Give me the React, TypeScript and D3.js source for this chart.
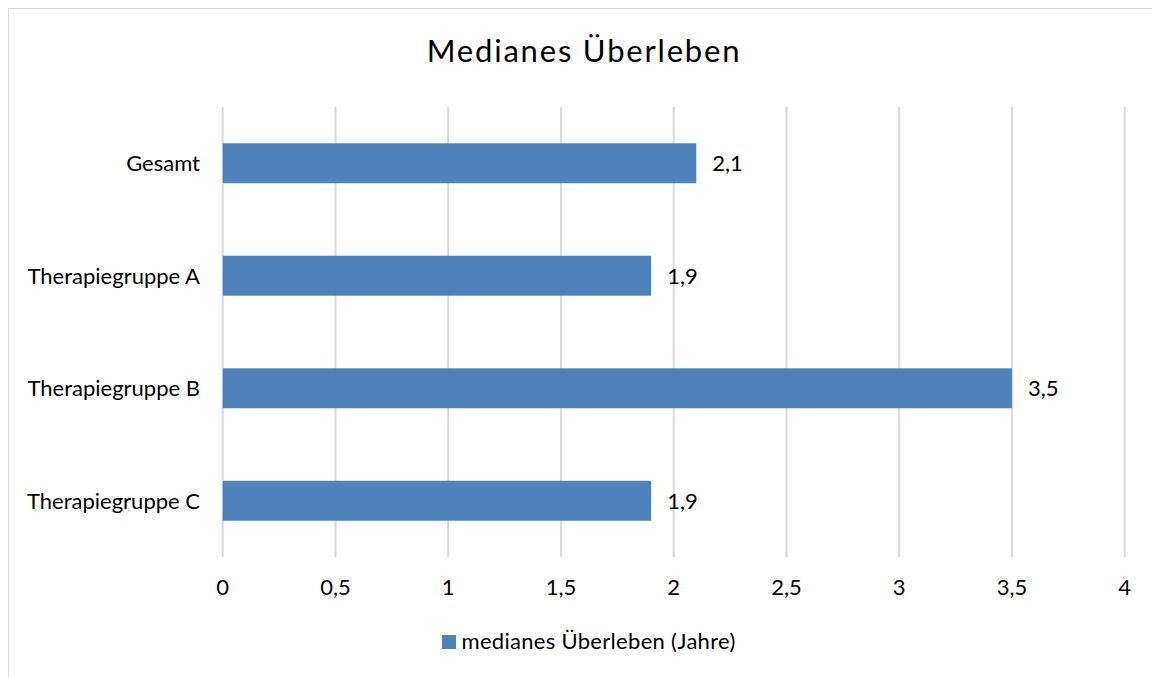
import React from "react";
import * as d3 from "d3";

const categories = ["Gesamt", "Therapiegruppe A", "Therapiegruppe B", "Therapiegruppe C"];
const values = [2.1, 1.9, 3.5, 1.9];
const xTicks = [0, 0.5, 1, 1.5, 2, 2.5, 3, 3.5, 4];
const title = "Medianes Überleben";
const seriesName = "medianes Überleben (Jahre)";

const W = 1152;
const H = 677;
const FONT = "Lato, 'Open Sans', sans-serif";
const fmt = (v: number) => String(v).replace(".", ",");

export default function App() {
  const x = d3.scaleLinear().domain([0, 4]).range([222.7, 1124.7]);
  const y = d3.scaleBand<string>().domain(categories).range([107, 557]).paddingInner(0.645).paddingOuter(0.3225);
  return (
    <svg width={W} height={H} style={{ position: "absolute", left: 0, top: 0 }}>
      <rect x={0} y={0} width={W} height={H} fill="#fff" />
      <rect x={8.5} y={8.5} width={1200} height={700} fill="#fff" stroke="#d9d9d9" strokeWidth={1} />
      <text x={584} y={62} textAnchor="middle" fontFamily={FONT} fontSize={31} letterSpacing={1.8} fill="#000">{title}</text>
      {xTicks.map((t) => (
        <line key={t} x1={x(t)} x2={x(t)} y1={107} y2={557} stroke="#d9d9d9" strokeWidth={2} />
      ))}
      {categories.map((c, i) => (
        <g key={c}>
          <rect x={x(0)} y={y(c)!} width={x(values[i]) - x(0)} height={y.bandwidth()} fill="#4f81bd" />
          <text x={x(values[i]) + 16} y={y(c)! + y.bandwidth() / 2 + 8} fontFamily={FONT} fontSize={22} fill="#000">{fmt(values[i])}</text>
          <text x={200} y={y(c)! + y.bandwidth() / 2 + 8} textAnchor="end" fontFamily={FONT} fontSize={22} fill="#000">{c}</text>
        </g>
      ))}
      {xTicks.map((t) => (
        <text key={t} x={x(t)} y={595} textAnchor="middle" fontFamily={FONT} fontSize={22} fill="#000">{fmt(t)}</text>
      ))}
      <rect x={442} y={635} width={14} height={14} fill="#4f81bd" />
      <text x={461.5} y={648.5} fontFamily={FONT} fontSize={22} letterSpacing={0.3} fill="#000">{seriesName}</text>
    </svg>
  );
}
